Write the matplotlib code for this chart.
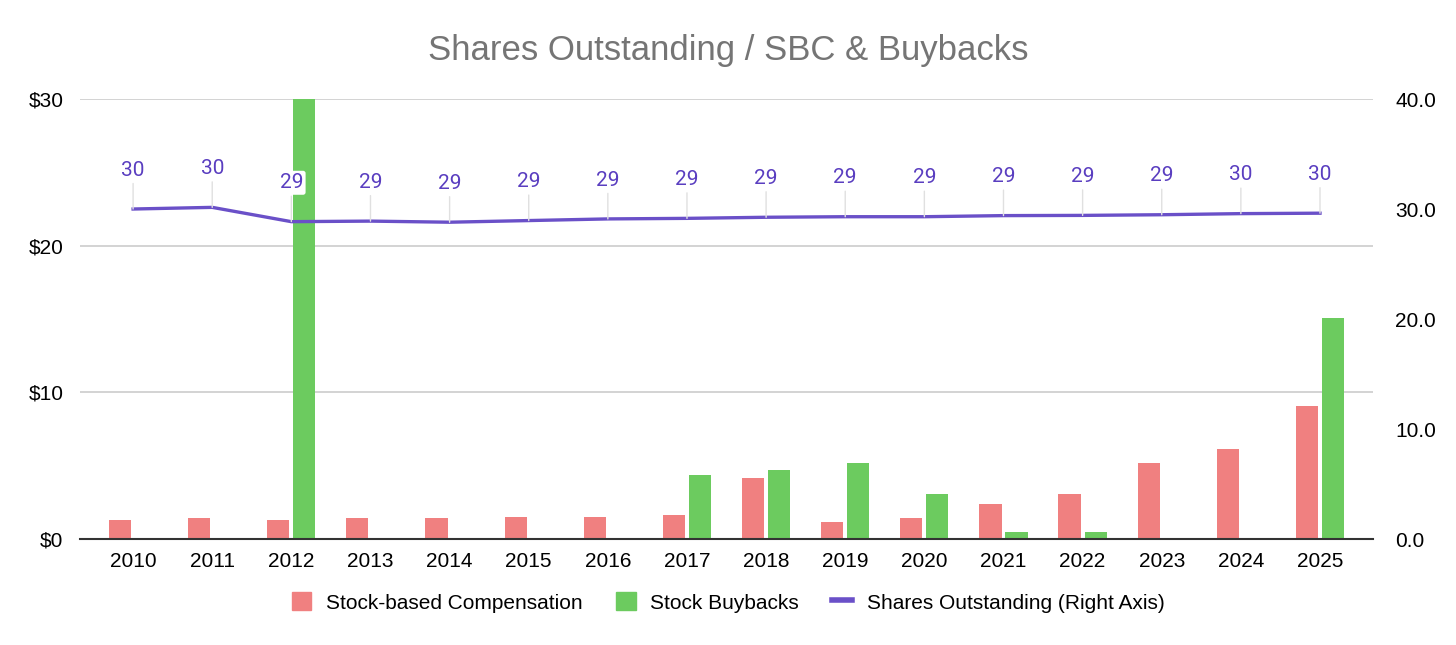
import matplotlib.pyplot as plt
from matplotlib.patches import Patch
from matplotlib.lines import Line2D
import numpy as np

years = [str(y) for y in range(2010, 2026)]
sbc = [1.3, 1.43, 1.3, 1.43, 1.43, 1.52, 1.52, 1.64, 4.14, 1.16, 1.41, 2.36, 3.05, 5.2, 6.14, 9.1]
buybacks = [0, 0, 30.0, 0, 0, 0, 0, 4.34, 4.7, 5.2, 3.05, 0.45, 0.45, 0, 0, 15.05]
shares = [30.0, 30.15, 28.85, 28.9, 28.8, 28.95, 29.1, 29.15, 29.25, 29.3, 29.3, 29.4, 29.42, 29.48, 29.58, 29.62]

red = '#F08080'
green = '#6CCB5F'
purple = '#6A50C8'
label_purple = '#5A3EC0'

plt.rcParams['font.family'] = ['Liberation Sans', 'DejaVu Sans']

fig = plt.figure(figsize=(14.56, 6.45), dpi=100)
ax = fig.add_axes([0.055, 0.1643, 0.888, 0.6822])
x = np.arange(len(years))
w = 0.28
ax.bar(x - 0.165, sbc, w, color=red, zorder=2)
ax.bar(x + 0.165, buybacks, w, color=green, zorder=2)

ax.set_ylim(0, 30)
ax.set_xlim(-0.67, 15.67)
ax.set_yticks([0, 10, 20, 30])
ax.set_yticklabels(['$0', '$10', '$20', '$30'])
ax.set_xticks(x)
ax.set_xticklabels(years)
ax.grid(axis='y', color='#CCCCCC', lw=1.2, zorder=0)
ax.set_axisbelow(True)
for s in ['top', 'right', 'left']:
    ax.spines[s].set_visible(False)
ax.spines['bottom'].set_color('#333333')
ax.spines['bottom'].set_linewidth(1.5)
ax.spines['bottom'].set_zorder(3)
ax.tick_params(axis='both', length=0, labelsize=15, colors='black')
ax.tick_params(axis='x', pad=9)
ax.tick_params(axis='y', pad=12)

# shares line on right axis
ax2 = ax.twinx()
ax2.plot(x, shares, color=purple, lw=2.4, zorder=4)
ax2.set_ylim(0, 40)
ax2.set_yticks([0, 10, 20, 30, 40])
ax2.set_yticklabels(['0.0', '10.0', '20.0', '30.0', '40.0'])
ax2.tick_params(axis='y', length=0, labelsize=15, pad=16)
for s in ax2.spines.values():
    s.set_visible(False)

for i, v in enumerate(shares):
    ax2.annotate(f'{v:.0f}', xy=(i, v), xytext=(0, 28), textcoords='offset points',
                 ha='center', va='center', fontsize=15, color=label_purple,
                 family=['Roboto', 'DejaVu Sans'],
                 bbox=dict(boxstyle='round,pad=0.12', fc='white', ec='none'),
                 arrowprops=dict(arrowstyle='-', color='#E0E0E0', lw=1, shrinkA=1, shrinkB=0),
                 zorder=5)

fig.suptitle('Shares Outstanding / SBC & Buybacks', x=0.5, y=0.948, fontsize=25, color='#757575')

handles = [Patch(color=red), Patch(color=green), Line2D([], [], color=purple, lw=4)]
names = ['Stock-based Compensation', 'Stock Buybacks', 'Shares Outstanding (Right Axis)']
fig.legend(handles, names, loc='center', bbox_to_anchor=(0.5, 0.066), ncol=3, frameon=False,
           fontsize=15, handlelength=0.95, handleheight=0.95, handletextpad=0.7, columnspacing=1.6)

fig.savefig('out.png', dpi=100)
